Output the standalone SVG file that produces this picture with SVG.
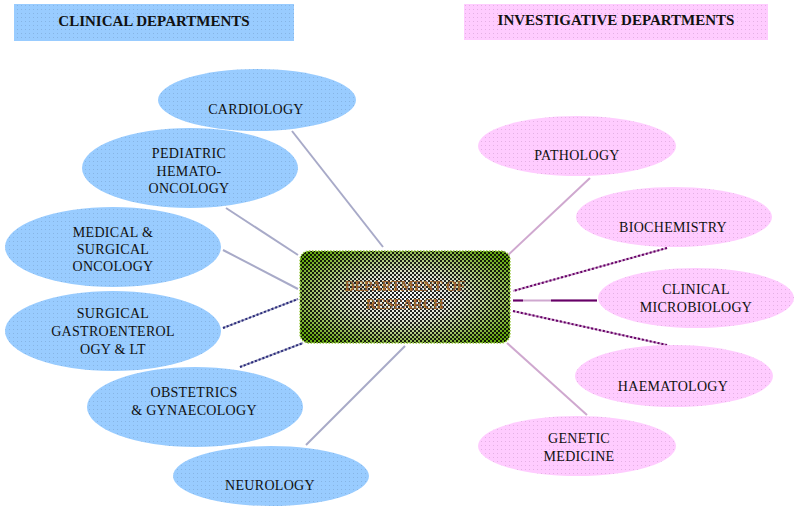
<svg xmlns="http://www.w3.org/2000/svg" width="800" height="511" viewBox="0 0 800 511">
<defs>
<pattern id="dotB" width="4" height="4" patternUnits="userSpaceOnUse"><rect width="4" height="4" fill="#99ccff"/><rect x="1" y="1" width="1" height="1" fill="#86b4e4"/></pattern>
<pattern id="dotP" width="4" height="4" patternUnits="userSpaceOnUse"><rect width="4" height="4" fill="#ffccff"/><rect x="1" y="1" width="1" height="1" fill="#e4b0e4"/></pattern>
<pattern id="chk" width="4" height="4" patternUnits="userSpaceOnUse"><rect width="2" height="2" fill="#000"/><rect x="2" y="2" width="2" height="2" fill="#000"/></pattern>
<radialGradient id="cg" cx="50%" cy="50%" r="62%"><stop offset="0" stop-color="#ffffff"/><stop offset="0.4" stop-color="#e0e4d4"/><stop offset="0.75" stop-color="#9cc060"/><stop offset="1" stop-color="#66aa11"/></radialGradient>
<style>
.b{fill:url(#dotB)}
.p{fill:url(#dotP)}
.t{font-family:"Liberation Serif","Times New Roman",serif;font-size:14px;fill:#111;text-anchor:middle;letter-spacing:0.3px}
.h{font-family:"Liberation Serif","Times New Roman",serif;font-size:15px;font-weight:bold;fill:#111;text-anchor:middle}
.c{font-family:"Liberation Serif","Times New Roman",serif;font-size:14px;font-weight:bold;fill:#9a6430;text-anchor:middle}
.lb{stroke:#a8aac8;stroke-width:2;fill:none}
.db{stroke:#2a2a7a;stroke-width:2;stroke-dasharray:2 2;fill:none}
.lp{stroke:#cfa8cf;stroke-width:2;fill:none}
.dp{stroke:#660066;stroke-width:2;stroke-dasharray:2 2;fill:none}
</style>
</defs>
<rect width="800" height="511" fill="#fff"/>
<g id="hdr-clinical"><rect x="14" y="4" width="280" height="37" class="b"/><text x="154" y="26" class="h">CLINICAL DEPARTMENTS</text></g>
<g id="hdr-investigative"><rect x="464" y="4" width="304" height="36" class="p"/><text x="616" y="25" class="h">INVESTIGATIVE DEPARTMENTS</text></g>
<g id="connectors">
<line x1="292" y1="131" x2="383" y2="247" class="lb"/>
<line x1="226" y1="208" x2="298" y2="255" class="lb"/>
<line x1="223" y1="250" x2="298" y2="289" class="lb"/>
<line x1="223" y1="328" x2="298" y2="299" class="lb"/>
<line x1="223" y1="328" x2="298" y2="299" class="db"/>
<line x1="240" y1="367" x2="303" y2="343" class="lb"/>
<line x1="240" y1="367" x2="303" y2="343" class="db"/>
<line x1="306" y1="445" x2="405" y2="346" class="lb"/>
<line x1="590" y1="178" x2="508" y2="255" class="lp"/>
<line x1="667" y1="248" x2="513" y2="291" class="lp"/>
<line x1="667" y1="248" x2="513" y2="291" class="dp"/>
<line x1="513" y1="300.5" x2="597" y2="300.5" class="lp"/>
<line x1="513" y1="300.5" x2="523" y2="300.5" stroke="#660066" stroke-width="2"/>
<line x1="551" y1="300.5" x2="597" y2="300.5" stroke="#660066" stroke-width="2"/>
<line x1="513" y1="311" x2="667" y2="345" class="lp"/>
<line x1="513" y1="311" x2="667" y2="345" class="dp"/>
<line x1="507" y1="343" x2="587" y2="415" class="lp"/>
</g>
<g id="center"><rect x="300" y="251" width="210" height="92" rx="9" fill="url(#cg)"/><rect x="300" y="251" width="210" height="92" rx="9" fill="url(#chk)" opacity="0.85"/><rect x="300" y="251" width="210" height="92" rx="9" fill="none" stroke="#9ccc44" stroke-width="1.5" stroke-dasharray="1.5 1.5"/><text x="405" y="291" class="c">DEPARTMENT OF</text><text x="405" y="309" class="c">RESEARCH</text></g>
<g id="cardiology"><ellipse cx="257" cy="100" rx="99" ry="31" class="b"/><text x="256" y="114" class="t">CARDIOLOGY</text></g>
<g id="pediatric"><ellipse cx="190" cy="168" rx="108" ry="40" class="b"/><text x="189" y="158" class="t">PEDIATRIC</text><text x="189" y="176" class="t">HEMATO-</text><text x="189" y="193" class="t">ONCOLOGY</text></g>
<g id="medical"><ellipse cx="113" cy="247" rx="108" ry="40" class="b"/><text x="113" y="237" class="t">MEDICAL &amp;</text><text x="113" y="254" class="t">SURGICAL</text><text x="113" y="271" class="t">ONCOLOGY</text></g>
<g id="gastro"><ellipse cx="113" cy="331" rx="108" ry="40" class="b"/><text x="113" y="318" class="t">SURGICAL</text><text x="113" y="336" class="t">GASTROENTEROL</text><text x="113" y="354" class="t">OGY &amp; LT</text></g>
<g id="obstetrics"><ellipse cx="195" cy="407" rx="108" ry="40" class="b"/><text x="194" y="397" class="t">OBSTETRICS</text><text x="194" y="415" class="t">&amp; GYNAECOLOGY</text></g>
<g id="neurology"><ellipse cx="271" cy="476" rx="98" ry="30" class="b"/><text x="270" y="490" class="t">NEUROLOGY</text></g>
<g id="pathology"><ellipse cx="577" cy="146" rx="99" ry="30" class="p"/><text x="577" y="160" class="t">PATHOLOGY</text></g>
<g id="biochemistry"><ellipse cx="674" cy="217" rx="98" ry="30" class="p"/><text x="673" y="232" class="t">BIOCHEMISTRY</text></g>
<g id="microbiology"><ellipse cx="696" cy="298" rx="98" ry="30" class="p"/><text x="696" y="294" class="t">CLINICAL</text><text x="696" y="312" class="t">MICROBIOLOGY</text></g>
<g id="haematology"><ellipse cx="674" cy="376" rx="99" ry="31" class="p"/><text x="673" y="391" class="t">HAEMATOLOGY</text></g>
<g id="genetic"><ellipse cx="577" cy="446" rx="99" ry="30" class="p"/><text x="579" y="443" class="t">GENETIC</text><text x="579" y="461" class="t">MEDICINE</text></g>
</svg>
